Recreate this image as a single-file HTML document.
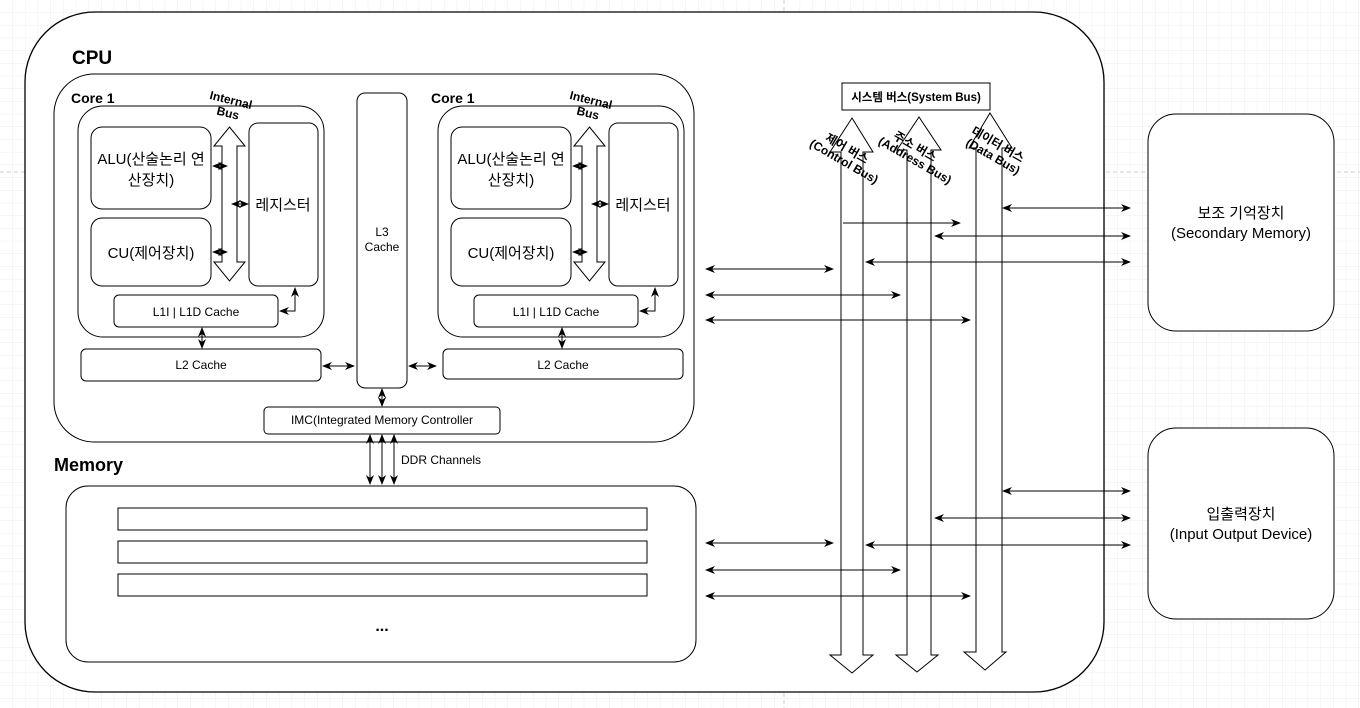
<!DOCTYPE html>
<html><head><meta charset="utf-8"><style>
html,body{margin:0;padding:0;background:#fff;}
svg{display:block;}
text{font-family:"Liberation Sans","Noto Sans CJK KR",sans-serif;fill:#000;}
</style></head><body>
<svg width="1360" height="708" viewBox="0 0 1360 708" xmlns="http://www.w3.org/2000/svg">
<defs>
<pattern id="g" width="12.7" height="12.7" patternUnits="userSpaceOnUse"><path d="M12.7 0V12.7H0" fill="none" stroke="#ececec" stroke-width="1"/></pattern>
<marker id="a" viewBox="0 0 10 10" refX="9" refY="5" markerWidth="10" markerHeight="10" orient="auto-start-reverse"><path d="M0 1L10 5L0 9L3 5z" fill="#000"/></marker>
</defs>
<rect width="1360" height="708" fill="url(#g)"/>
<line x1="784" y1="0" x2="784" y2="708" stroke="#ccc" stroke-dasharray="4 3"/>
<line x1="0" y1="172" x2="1360" y2="172" stroke="#ccc" stroke-dasharray="4 3"/>

<rect x="25" y="12" width="1079" height="680" rx="70" fill="#fff" stroke="#000" stroke-width="1.3"/>
<text x="72" y="64" font-size="19" font-weight="bold">CPU</text>
<rect x="54" y="74" width="640" height="368" rx="40" fill="#fff" stroke="#000"/>

<g id="core">
<text x="71" y="103" font-size="14" font-weight="bold">Core 1</text>
<rect x="78" y="106" width="246" height="231" rx="25" fill="#fff" stroke="#000"/>
<rect x="91" y="127" width="120" height="82" rx="11" fill="#fff" stroke="#000"/>
<text x="151" y="164" font-size="15" text-anchor="middle">ALU(산술논리 연</text>
<text x="151" y="185" font-size="15" text-anchor="middle">산장치)</text>
<rect x="91" y="218" width="120" height="68" rx="11" fill="#fff" stroke="#000"/>
<text x="151" y="258" font-size="15" text-anchor="middle">CU(제어장치)</text>
<rect x="249" y="123" width="69" height="163" rx="9" fill="#fff" stroke="#000"/>
<text x="283" y="210" font-size="15" text-anchor="middle">레지스터</text>
<path d="M229.5 127L245 146H237V262H245L229.5 281L214 262H222V146H214Z" fill="#fff" stroke="#000"/>
<text transform="translate(230 104) rotate(14)" font-size="12" font-weight="bold" text-anchor="middle">Internal</text>
<text transform="translate(227 117) rotate(14)" font-size="12" font-weight="bold" text-anchor="middle">Bus</text>
<line x1="213" y1="166" x2="227" y2="166" stroke="#000" marker-start="url(#a)" marker-end="url(#a)"/>
<line x1="213" y1="252" x2="227" y2="252" stroke="#000" marker-start="url(#a)" marker-end="url(#a)"/>
<line x1="232" y1="204" x2="248" y2="204" stroke="#000" marker-start="url(#a)" marker-end="url(#a)"/>
<rect x="114" y="295" width="164" height="32" rx="5" fill="#fff" stroke="#000"/>
<text x="196" y="316" font-size="12" text-anchor="middle">L1I | L1D Cache</text>
<polyline points="280,311 295,311 295,288" fill="none" stroke="#000" marker-start="url(#a)" marker-end="url(#a)"/>
<line x1="202" y1="328" x2="202" y2="348" stroke="#000" marker-start="url(#a)" marker-end="url(#a)"/>
</g>
<use href="#core" transform="translate(360 0)"/>
<rect x="81" y="349" width="240" height="32" rx="5" fill="#fff" stroke="#000"/>
<text x="201" y="369" font-size="12" text-anchor="middle">L2 Cache</text>
<rect x="443" y="349" width="240" height="30" rx="5" fill="#fff" stroke="#000"/>
<text x="563" y="369" font-size="12" text-anchor="middle">L2 Cache</text>
<rect x="357" y="93" width="50" height="295" rx="8" fill="#fff" stroke="#000"/>
<text x="382" y="236" font-size="12" text-anchor="middle">L3</text>
<text x="382" y="251" font-size="12" text-anchor="middle">Cache</text>
<line x1="323" y1="366" x2="354" y2="366" stroke="#000" marker-start="url(#a)" marker-end="url(#a)"/>
<line x1="409" y1="366" x2="436" y2="366" stroke="#000" marker-start="url(#a)" marker-end="url(#a)"/>
<line x1="382" y1="389" x2="382" y2="406" stroke="#000" marker-start="url(#a)" marker-end="url(#a)"/>
<rect x="264" y="407" width="236" height="27" rx="4" fill="#fff" stroke="#000"/>
<text x="382" y="424" font-size="12" text-anchor="middle">IMC(Integrated Memory Controller</text>
<line x1="370" y1="435" x2="370" y2="484" stroke="#000" marker-start="url(#a)" marker-end="url(#a)"/>
<line x1="382" y1="435" x2="382" y2="484" stroke="#000" marker-start="url(#a)" marker-end="url(#a)"/>
<line x1="394" y1="435" x2="394" y2="484" stroke="#000" marker-start="url(#a)" marker-end="url(#a)"/>
<text x="401" y="464" font-size="12">DDR Channels</text>

<text x="54" y="471" font-size="18" font-weight="bold">Memory</text>
<rect x="66" y="486" width="630" height="176" rx="22" fill="#fff" stroke="#000"/>
<rect x="118" y="508" width="529" height="22" fill="#fff" stroke="#000"/>
<rect x="118" y="541" width="529" height="22" fill="#fff" stroke="#000"/>
<rect x="118" y="574" width="529" height="22" fill="#fff" stroke="#000"/>
<text x="382" y="631" font-size="16" font-weight="bold" text-anchor="middle">...</text>

<rect x="842" y="83" width="148" height="27" fill="#fff" stroke="#000"/>
<text x="916" y="101" font-size="11.5" font-weight="bold" text-anchor="middle">시스템 버스(System Bus)</text>
<path d="M852 118L873 152H863V655H873L852 673L830 655H841V152H830Z" fill="#fff" stroke="#000"/>
<path d="M919 117L941 150H931V655H938L917 672L896 655H907V150H897Z" fill="#fff" stroke="#000"/>
<path d="M990 113L1012 148H1002V652H1006L985 670L964 652H976V148H969Z" fill="#fff" stroke="#000"/>
<g font-size="12" font-weight="bold" text-anchor="middle">
<text transform="translate(845 152) rotate(30)">제어 버스</text>
<text transform="translate(842 165) rotate(30)">(Control Bus)</text>
<text transform="translate(913 150) rotate(30)">주소 버스</text>
<text transform="translate(913 164) rotate(30)">(Address Bus)</text>
<text transform="translate(996 148) rotate(30)">데이터 버스</text>
<text transform="translate(991 160) rotate(30)">(Data Bus)</text>
</g>
<g stroke="#000" stroke-width="1">
<line x1="843" y1="223" x2="960" y2="223" marker-end="url(#a)"/>
<line x1="1003" y1="208" x2="1130" y2="208" marker-start="url(#a)" marker-end="url(#a)"/>
<line x1="935" y1="236" x2="1130" y2="236" marker-start="url(#a)" marker-end="url(#a)"/>
<line x1="866" y1="262" x2="1130" y2="262" marker-start="url(#a)" marker-end="url(#a)"/>
<line x1="706" y1="269" x2="833" y2="269" marker-start="url(#a)" marker-end="url(#a)"/>
<line x1="706" y1="295" x2="900" y2="295" marker-start="url(#a)" marker-end="url(#a)"/>
<line x1="706" y1="320" x2="970" y2="320" marker-start="url(#a)" marker-end="url(#a)"/>
<line x1="1003" y1="491" x2="1130" y2="491" marker-start="url(#a)" marker-end="url(#a)"/>
<line x1="935" y1="518" x2="1130" y2="518" marker-start="url(#a)" marker-end="url(#a)"/>
<line x1="866" y1="545" x2="1130" y2="545" marker-start="url(#a)" marker-end="url(#a)"/>
<line x1="706" y1="543" x2="833" y2="543" marker-start="url(#a)" marker-end="url(#a)"/>
<line x1="706" y1="570" x2="900" y2="570" marker-start="url(#a)" marker-end="url(#a)"/>
<line x1="706" y1="596" x2="970" y2="596" marker-start="url(#a)" marker-end="url(#a)"/>
</g>

<rect x="1148" y="114" width="186" height="217" rx="28" fill="#fff" stroke="#000"/>
<text x="1241" y="218" font-size="15" text-anchor="middle">보조 기억장치</text>
<text x="1241" y="238" font-size="15" text-anchor="middle">(Secondary Memory)</text>
<rect x="1148" y="428" width="186" height="191" rx="28" fill="#fff" stroke="#000"/>
<text x="1241" y="519" font-size="15" text-anchor="middle">입출력장치</text>
<text x="1241" y="539" font-size="15" text-anchor="middle">(Input Output Device)</text>
</svg>
</body></html>
